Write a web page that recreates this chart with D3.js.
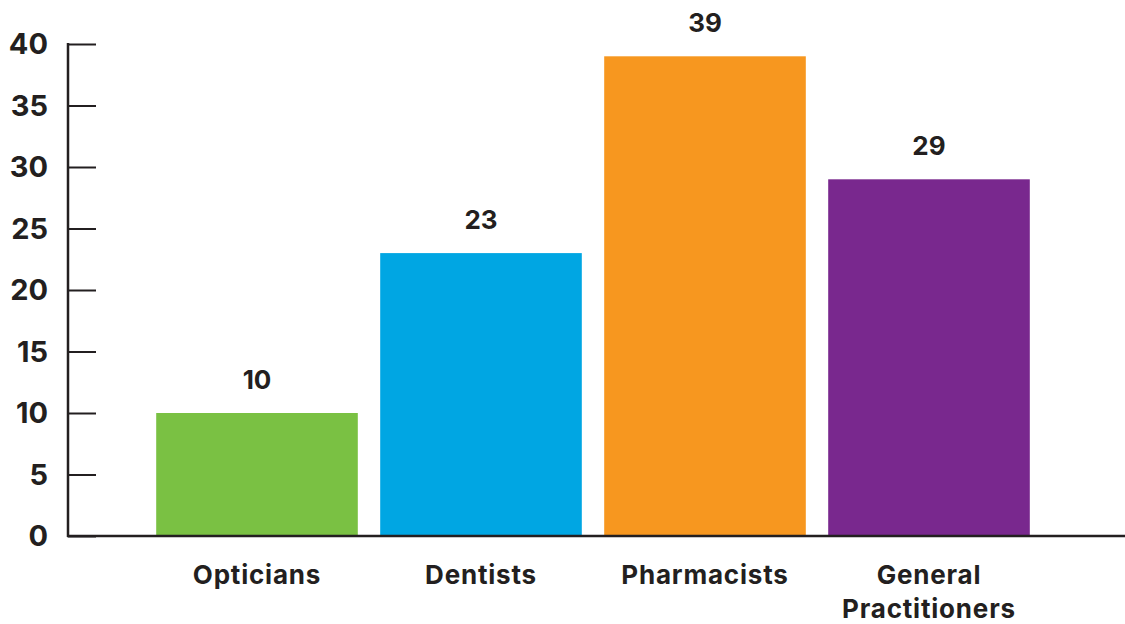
<!DOCTYPE html>
<html>
<head>
<meta charset="utf-8">
<script src="https://cdn.jsdelivr.net/npm/d3@7"></script>
<style>
  html, body { margin: 0; padding: 0; background: #fff; }
  svg { display: block; font-family: "Inter", "Open Sans", sans-serif; }
</style>
</head>
<body>
<div id="wrapper"></div>
<script>
const categories = ["Opticians", "Dentists", "Pharmacists", "General Practitioners"];
const values = [10, 23, 39, 29];
const colors = ["#7ac143", "#00a6e3", "#f7971f", "#79288e"];
const yTicks = [0, 5, 10, 15, 20, 25, 30, 35, 40];

const dimensions = {
  width: 1125,
  height: 624,
  axisX: 68,
  top: 44,
  bottom: 536,
};

const wrapper = d3.select('#wrapper')
  .append('svg')
  .attr('width', dimensions.width)
  .attr('height', dimensions.height);

const xScale = d3.scaleBand()
  .domain(categories)
  .range([145, 1041])
  .paddingInner(0.1)
  .paddingOuter(0.05);

const yScale = d3.scaleLinear()
  .domain([0, 40])
  .range([dimensions.bottom, dimensions.top]);

const ink = '#231f20';

// bars
wrapper.append('g')
  .selectAll('rect')
  .data(values)
  .join('rect')
  .attr('x', (d, i) => xScale(categories[i]))
  .attr('y', d => yScale(d))
  .attr('width', xScale.bandwidth())
  .attr('height', d => yScale(0) - yScale(d))
  .attr('fill', (d, i) => colors[i]);

// value labels
wrapper.append('g')
  .attr('text-anchor', 'middle')
  .attr('font-size', 26)
  .attr('font-weight', 700)
  .attr('fill', ink)
  .selectAll('text')
  .data(values)
  .join('text')
  .attr('x', (d, i) => xScale(categories[i]) + xScale.bandwidth() / 2)
  .attr('y', d => yScale(d) - 24)
  .text(d => d);

// y axis
const yAxis = d3.axisRight(yScale)
  .tickValues(yTicks)
  .tickSize(28)
  .tickFormat('');

const yAxisGroup = wrapper.append('g')
  .attr('transform', `translate(${dimensions.axisX}, 0)`)
  .call(yAxis);
yAxisGroup.select('.domain').remove();
yAxisGroup.selectAll('.tick line').attr('stroke', ink).attr('stroke-width', 2);

wrapper.append('line')
  .attr('x1', dimensions.axisX).attr('x2', dimensions.axisX)
  .attr('y1', dimensions.top - 1).attr('y2', dimensions.bottom + 1)
  .attr('stroke', ink).attr('stroke-width', 2.5);

wrapper.append('line')
  .attr('x1', dimensions.axisX - 1).attr('x2', dimensions.width)
  .attr('y1', dimensions.bottom).attr('y2', dimensions.bottom)
  .attr('stroke', ink).attr('stroke-width', 2.5);

// y tick labels
wrapper.append('g')
  .attr('text-anchor', 'end')
  .attr('font-size', 29)
  .attr('font-weight', 700)
  .attr('fill', ink)
  .selectAll('text')
  .data(yTicks)
  .join('text')
  .attr('x', 48)
  .attr('y', d => yScale(d) + 10)
  .text(d => d);

// category labels
const catLabels = wrapper.append('g')
  .attr('text-anchor', 'middle')
  .attr('font-size', 26)
  .attr('font-weight', 700)
  .attr('letter-spacing', 0.8)
  .attr('fill', ink)
  .selectAll('text')
  .data(categories)
  .join('text')
  .attr('x', d => xScale(d) + xScale.bandwidth() / 2)
  .attr('y', 584);

catLabels.each(function(d) {
  const words = d.split(' ');
  const t = d3.select(this);
  const x = xScale(d) + xScale.bandwidth() / 2;
  words.forEach((w, i) => {
    t.append('tspan').attr('x', x).attr('dy', i === 0 ? 0 : 34).text(w);
  });
});
</script>
</body>
</html>
